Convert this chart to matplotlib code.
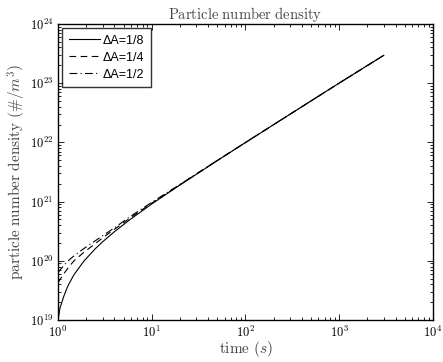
import numpy
import matplotlib
matplotlib.use("Agg")
import matplotlib.pyplot as plt
from matplotlib.ticker import LogLocator, FuncFormatter, NullFormatter

plt.rcParams['font.family'] = ['Liberation Sans', 'DejaVu Sans']
plt.rcParams['mathtext.fontset'] = 'cm'

# time points (s)
t = [1, 1.05, 1.1, 1.15, 1.25, 1.3, 1.45, 1.5, 1.9, 2.5, 3, 4, 6, 10,
     20, 50, 100, 300, 1000, 3000]

# particle number density (#/m^3) for each grid spacing
n_18 = [1.0e19, 1.6e19, 2.0e19, 2.5e19, 3.5e19, 4.0e19, 5.5e19, 6.0e19,
        1.0e20, 1.6e20, 2.1e20, 3.1e20, 5.1e20, 9.1e20,
        1.9e21, 4.9e21, 9.9e21, 2.99e22, 9.99e22, 2.95e23]
n_14 = [4.3e19, 4.8e19, 5.4e19, 6.0e19, 7.2e19, 7.8e19, 9.6e19, 1.02e20,
        1.4e20, 1.95e20, 2.45e20, 3.4e20, 5.4e20, 9.4e20,
        1.92e21, 4.92e21, 9.9e21, 2.99e22, 9.99e22, 2.95e23]
n_12 = [6.3e19, 7.0e19, 7.6e19, 8.3e19, 9.6e19, 1.02e20, 1.18e20, 1.23e20,
        1.62e20, 2.18e20, 2.65e20, 3.6e20, 5.7e20, 9.7e20,
        1.95e21, 4.95e21, 9.95e21, 2.99e22, 9.99e22, 2.95e23]

labels = ["\u0394A=1/8", "\u0394A=1/4", "\u0394A=1/2"]

fig = plt.figure(figsize=(4.43, 3.62), dpi=100)
ax = fig.add_axes([0.131, 0.116, 0.846, 0.818])

ax.loglog(t, n_18, color='black', linestyle='-', linewidth=0.8, label=labels[0])
ax.loglog(t, n_14, color='black', linestyle=(0, (6, 4)), linewidth=0.8, label=labels[1])
ax.loglog(t, n_12, color='black', linestyle=(0, (7, 3, 1, 3)), linewidth=0.8, label=labels[2])

ax.set_xlim(1, 1e4)
ax.set_ylim(1e19, 1e24)

fmt = FuncFormatter(lambda v, p: r'$\mathsf{10^{%d}}$' % round(numpy.log10(v)))
for axis in (ax.xaxis, ax.yaxis):
    axis.set_major_locator(LogLocator(base=10, numticks=20))
    axis.set_minor_locator(LogLocator(base=10, subs=numpy.arange(2, 10), numticks=20))
    axis.set_major_formatter(fmt)
    axis.set_minor_formatter(NullFormatter())

ax.tick_params(which='both', direction='in', top=True, right=True, labelsize=9, width=0.6)
ax.tick_params(which='major', length=4)
ax.tick_params(which='minor', length=2)
for s in ax.spines.values():
    s.set_linewidth(1.0)

ax.set_title(r'$\mathrm{Particle\ number\ density}$', fontsize=10.5, color='#444444', pad=3)
ax.set_xlabel(r'$\mathrm{time}\ (s)$', fontsize=11, color='#444444', labelpad=-1)
ax.set_ylabel(r'$\mathrm{particle\ number\ density}\ (\#/m^3)$', fontsize=11, color='#444444', labelpad=1)

leg = ax.legend(loc='upper left', fontsize=9, frameon=True, fancybox=False,
                edgecolor='black', handlelength=2.5, borderaxespad=0.35,
                labelspacing=0.4, handletextpad=0.25, borderpad=0.5)
leg.get_frame().set_linewidth(1.0)

fig.savefig("out.png", dpi=100)
